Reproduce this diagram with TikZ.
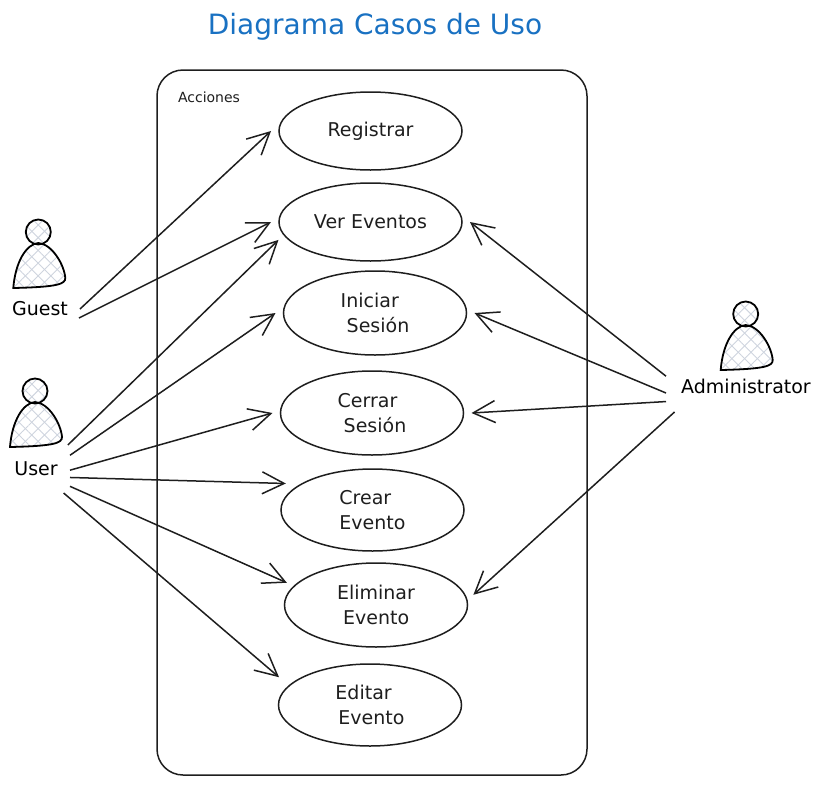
\documentclass[tikz,border=0pt]{standalone}
\usepackage{fontspec}
\setmainfont{DejaVu Sans}
\usetikzlibrary{positioning,calc}
\usetikzlibrary{arrows.meta,shapes.geometric,patterns.meta}
\definecolor{TitleBlue}{RGB}{25,113,194}
\definecolor{InkBlack}{RGB}{30,30,30}
\definecolor{HatchGray}{RGB}{206,212,222}
\tikzset{
  usecase/.style={ellipse,draw=InkBlack,line width=1.5pt,inner sep=0pt,outer sep=8pt,
    minimum width=183pt,minimum height=#1,align=left,font=\fontsize{19}{25}\selectfont,text=InkBlack},
  usecase/.default=84pt,
  role/.style={inner sep=0pt,outer sep=0pt,font=\fontsize{19}{20}\selectfont,text=black},
  assoc/.style={draw=InkBlack,line width=1.5pt,-{Straight Barb[length=22pt,width=22pt]}},
  pics/actor/.style={code={
    \path[pattern={Lines[angle=45,distance=9pt,line width=.9pt]},pattern color=HatchGray]
      (-25,56) .. controls (-23,30) and (-12,12) .. (0,11) .. controls (14,12) and (26,33) .. (27,46) .. controls (27,52) and (20,55) .. cycle;
    \path[pattern={Lines[angle=-45,distance=9pt,line width=.9pt]},pattern color=HatchGray]
      (-25,56) .. controls (-23,30) and (-12,12) .. (0,11) .. controls (14,12) and (26,33) .. (27,46) .. controls (27,52) and (20,55) .. cycle;
    \path[pattern={Lines[angle=45,distance=9pt,line width=.9pt]},pattern color=HatchGray] (0,0) circle (12.5pt);
    \path[pattern={Lines[angle=-45,distance=9pt,line width=.9pt]},pattern color=HatchGray] (0,0) circle (12.5pt);
    \draw[black,line width=1.8pt] (0,0) circle (12.5pt);
    \draw[black,line width=1.8pt] (-25,56) .. controls (-23,30) and (-12,12) .. (0,11) .. controls (14,12) and (26,33) .. (27,46) .. controls (27,52) and (20,55) .. cycle;
  }},
}

\begin{document}
\begin{tikzpicture}[x=1pt,y=-1pt]
    \useasboundingbox (0,0) rectangle (820,785);
    \node[font=\fontsize{28}{30}\selectfont,text=TitleBlue] (title) at (375,27) {Diagrama Casos de Uso};
    \node[draw=InkBlack,line width=1.5pt,rounded corners=26pt,minimum width=430pt,minimum height=705pt,inner sep=0pt] (system) at (372,422.5) {};
    \node[font=\fontsize{14}{16}\selectfont,text=InkBlack] (acciones) at (209,97) {Acciones};
    % use cases
    \node[usecase=78pt] (registrar) at (370.5,131) {Registrar};
    \node[usecase=78pt] (ver) at (370.5,222) {Ver Eventos};
    \node[usecase] (iniciar) at (375,313) {Iniciar\\\hspace{6pt}Sesión};
    \node[usecase] (cerrar) at (372,413) {Cerrar\\\hspace{6pt}Sesión};
    \node[usecase=82pt,outer sep=10pt] (crear) at (372.5,510) {Crear\\Evento};
    \node[usecase] (eliminar) at (376,605) {Eliminar\\\hspace{6pt}Evento};
    \node[usecase=82pt,outer sep=14pt] (editar) at (370,705) {Editar\\\hspace{3pt}Evento};
    % actors
    \pic at (38.3,232) {actor};
    \pic at (35,391) {actor};
    \pic at (745.7,314) {actor};
    \node[role,minimum width=80pt,minimum height=18pt] (guest) at (40,309) {Guest};
    \node[role,minimum width=68pt,minimum height=48pt] (user) at (36,469) {User};
    \node[role,minimum width=160pt,minimum height=52pt] (admin) at (746,386) {Administrator};
    \foreach \a/\s/\b/\e in {guest/0/registrar/180,guest/-13/ver/180,
      user/37/ver/191,user/22/iniciar/180,user/-2/cerrar/180,user/-14/crear/163,
      user/-27/eliminar/166,user/-41/editar/163,
      admin/173/ver/0,admin/185/iniciar/0,admin/191/cerrar/0,admin/200/eliminar/6}
      \draw[assoc] (\a.\s)--(\b.\e);
  \end{tikzpicture}
\end{document}
